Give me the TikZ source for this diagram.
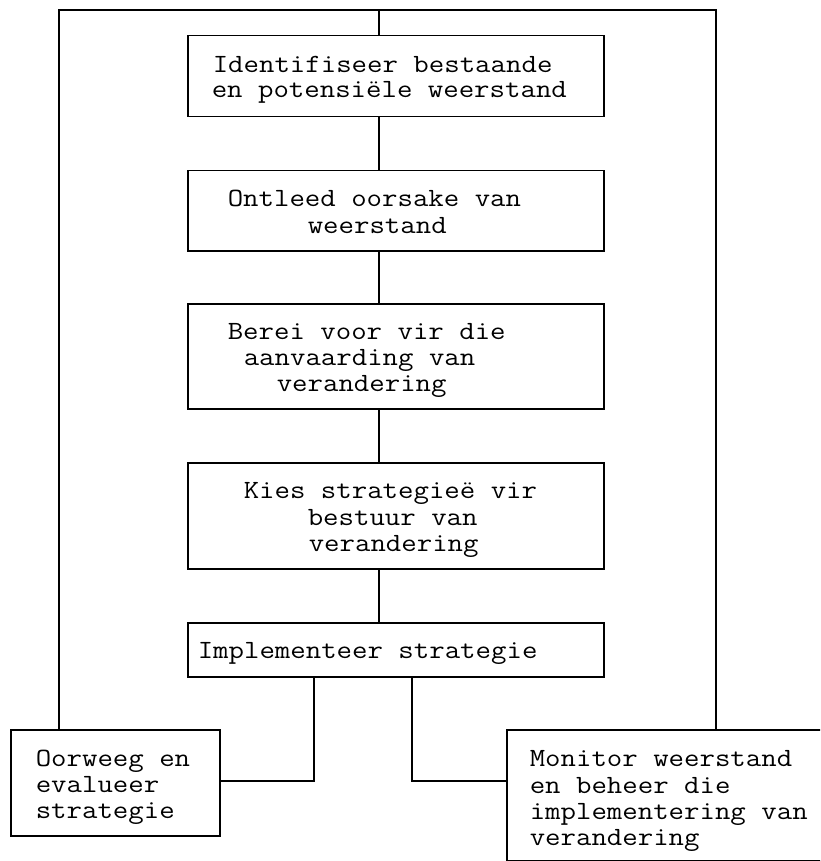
\documentclass[tikz,border=0pt]{standalone}
\usepackage{fontspec}
% serifed typewriter face, widened to a Courier-like advance
\newfontfamily\typefont[FakeStretch=1.14]{Latin Modern Mono}
\begin{document}
\begin{tikzpicture}[
  x=1pt, y=-1pt,
  line width=1.5pt,
  stepbox/.style={draw, rectangle, inner sep=0pt, anchor=north west},
  txt/.style={anchor=base west, inner sep=0pt, font=\typefont\fontsize{26.3}{26.5}\selectfont},
  link/.style={draw}
]
\useasboundingbox (0,0) rectangle (820,861);
\clip (0,0) rectangle (820,861);

% boxes of the main chain
\node[stepbox, minimum width=416pt, minimum height=81pt]  (b1) at (187,35)  {};
\node[stepbox, minimum width=416pt, minimum height=80pt]  (b2) at (187,170) {};
\node[stepbox, minimum width=416pt, minimum height=105pt] (b3) at (187,303) {};
\node[stepbox, minimum width=416pt, minimum height=106pt] (b4) at (187,462) {};
\node[stepbox, minimum width=416pt, minimum height=54pt]  (b5) at (187,622) {};
% the two boxes at the bottom
\node[stepbox, minimum width=209pt, minimum height=106pt] (ev) at (10,729)  {};
\node[stepbox, minimum width=334pt, minimum height=131pt] (mo) at (506,729) {};

% texts
\node[txt] (t1a) at (212,73)  {Identifiseer bestaande};
\node[txt] (t1b) at (211,98)  {en potensiële weerstand};
\node[txt] (t2a) at (227,206) {Ontleed oorsake van};
\node[txt] (t2b) at (307,233) {weerstand};
\node[txt] (t3a) at (227,339) {Berei voor vir die};
\node[txt] (t3b) at (243,365) {aanvaarding van};
\node[txt] (t3c) at (276,391) {verandering};
\node[txt] (t4a) at (243,498) {Kies strategieë vir};
\node[txt] (t4b) at (307,525) {bestuur van};
\node[txt] (t4c) at (308,551) {verandering};
\node[txt] (t5a) at (197,658) {Implementeer strategie};
\node[txt] (tea) at (35,766)  {Oorweeg en};
\node[txt] (teb) at (35,792)  {evalueer};
\node[txt] (tec) at (35,818)  {strategie};
\node[txt] (tma) at (529,766) {Monitor weerstand};
\node[txt] (tmb) at (529,793) {en beheer die};
\node[txt] (tmc) at (529,819) {implementering van};
\node[txt] (tmd) at (529,845) {verandering};

% guide coordinates for the connectors
\coordinate (spine) at (379,10);
\coordinate (topl)  at (59,10);
\coordinate (topr)  at (716,10);
\coordinate (dl)    at (314,781);
\coordinate (dr)    at (412,781);

% feedback frame over the top
\draw[link] (ev.north -| topl) -- (topl) -- (topr) -- (mo.north -| topr);
\draw[link] (spine) -- (b1.north -| spine);
% main chain
\draw[link] (b1.south -| spine) -- (b2.north -| spine);
\draw[link] (b2.south -| spine) -- (b3.north -| spine);
\draw[link] (b3.south -| spine) -- (b4.north -| spine);
\draw[link] (b4.south -| spine) -- (b5.north -| spine);
% branches to the bottom boxes
\draw[link] (b5.south -| dl) -- (dl) -- (ev.east |- dl);
\draw[link] (b5.south -| dr) -- (dr) -- (mo.west |- dr);
\end{tikzpicture}
\end{document}
